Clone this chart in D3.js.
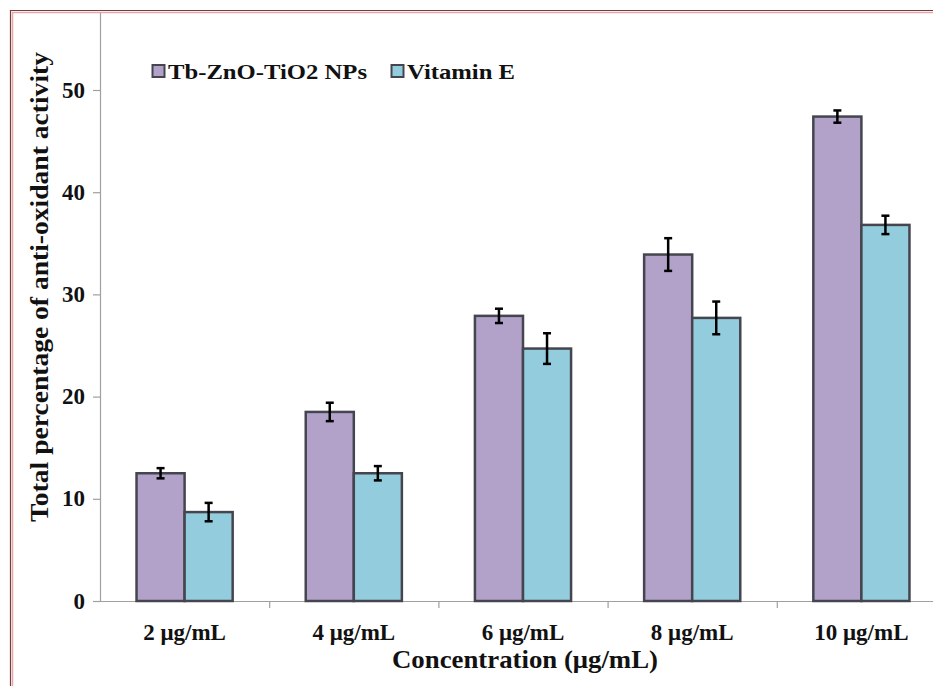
<!DOCTYPE html>
<html><head><meta charset="utf-8">
<script src="https://cdn.jsdelivr.net/npm/d3@7"></script>
<style>body{margin:0;background:#fff}svg{display:block}</style>
</head><body>
<script>
const categories = ["2 μg/mL","4 μg/mL","6 μg/mL","8 μg/mL","10 μg/mL"];
const seriesNames = ["Tb-ZnO-TiO2 NPs","Vitamin E"];
const tbValues = [12.5, 18.5, 27.9, 33.9, 47.4];
const tbErrors = [0.5, 0.9, 0.7, 1.6, 0.6];
const vitValues = [8.7, 12.5, 24.7, 27.7, 36.8];
const vitErrors = [0.9, 0.7, 1.5, 1.6, 0.9];
const yTicks = [0,10,20,30,40,50];
const colors = ["#b2a2c9","#93cddd"];

const W=933,H=686;
const svg=d3.select("body").append("svg").attr("width",W).attr("height",H);
svg.append("rect").attr("width",W).attr("height",H).attr("fill","#fff");
// frame
svg.append("path").attr("d","M10.5,686 V10.5 H933").attr("fill","none").attr("stroke","#7a3b3b").attr("stroke-width",1.2);
svg.append("path").attr("d","M12.5,686 V12.5 H933").attr("fill","none").attr("stroke","#e2a9ab").attr("stroke-width",1.5);

const x0=100, x1=946, y0=601, yTop=13;
const x=d3.scaleBand().domain(categories).range([x0,x1]).paddingInner(0).paddingOuter(0);
const y=d3.scaleLinear().domain([0,50]).range([y0,90]);
const sub=d3.scaleBand().domain([0,1]).range([0,x.bandwidth()]).paddingInner(0).paddingOuter(0.76);

const font="'Liberation Serif','Times New Roman',serif";

// axes lines
svg.append("line").attr("x1",x0+0.5).attr("x2",x0+0.5).attr("y1",yTop).attr("y2",y0).attr("stroke","#a0a0a0").attr("stroke-width",1.2);
svg.append("line").attr("x1",93).attr("x2",W).attr("y1",y0+0.5).attr("y2",y0+0.5).attr("stroke","#a0a0a0").attr("stroke-width",1.2);
// y ticks
yTicks.forEach(t=>{
  svg.append("line").attr("x1",93).attr("x2",x0).attr("y1",y(t)+0.5).attr("y2",y(t)+0.5).attr("stroke","#a0a0a0").attr("stroke-width",1.2);
  svg.append("text").attr("x",85).attr("y",y(t)+7.5).attr("text-anchor","end")
    .attr("font-family",font).attr("font-weight","bold").attr("font-size",23).attr("fill","#111").text(t);
});
// x ticks at category boundaries
categories.forEach((c,i)=>{
  if(i>0){const bx=x(c);
  svg.append("line").attr("x1",bx+0.5).attr("x2",bx+0.5).attr("y1",y0).attr("y2",y0+7).attr("stroke","#a0a0a0").attr("stroke-width",1.2);}
  svg.append("text").attr("x",x(c)+x.bandwidth()/2).attr("y",640).attr("text-anchor","middle")
    .attr("font-family",font).attr("font-weight","bold").attr("font-size",23).attr("fill","#111").text(c);
});

const series=[{vals:tbValues,errs:tbErrors},{vals:vitValues,errs:vitErrors}];
series.forEach((s,si)=>{
  const g=svg.append("g");
  g.selectAll("rect").data(categories).join("rect")
    .attr("x",(c)=>x(c)+sub(si)).attr("width",sub.bandwidth())
    .attr("y",(c,i)=>y(s.vals[i])).attr("height",(c,i)=>y0-y(s.vals[i]))
    .attr("fill",colors[si]).attr("stroke","#45454f").attr("stroke-width",2.5);
  categories.forEach((c,i)=>{
    const cx=x(c)+sub(si)+sub.bandwidth()/2;
    const top=y(s.vals[i]+s.errs[i]), bot=y(s.vals[i]-s.errs[i]);
    g.append("line").attr("x1",cx).attr("x2",cx).attr("y1",top).attr("y2",bot).attr("stroke","#000").attr("stroke-width",2.5);
    [top,bot].forEach(yy=>g.append("line").attr("x1",cx-4).attr("x2",cx+4).attr("y1",yy).attr("y2",yy).attr("stroke","#000").attr("stroke-width",2.5));
  });
});

// legend
const legX=[152.5,391.5], legTextX=[168,407], legLen=[199,108];
seriesNames.forEach((n,i)=>{
  svg.append("rect").attr("x",legX[i]).attr("y",65).attr("width",12).attr("height",12)
    .attr("fill",colors[i]).attr("stroke","#45454f").attr("stroke-width",2);
  svg.append("text").attr("x",legTextX[i]).attr("y",79).attr("font-family",font).attr("font-weight","bold")
    .attr("font-size",22).attr("fill","#111").attr("textLength",legLen[i]).attr("lengthAdjust","spacingAndGlyphs").text(n);
});

// axis titles
svg.append("text").attr("x",525).attr("y",668).attr("text-anchor","middle").attr("font-family",font)
  .attr("font-weight","bold").attr("font-size",26).attr("fill","#111")
  .attr("textLength",266).attr("lengthAdjust","spacingAndGlyphs").text("Concentration (μg/mL)");
svg.append("text").attr("transform","translate(48,287) rotate(-90)").attr("text-anchor","middle").attr("font-family",font)
  .attr("font-weight","bold").attr("font-size",25).attr("fill","#111")
  .attr("textLength",470).attr("lengthAdjust","spacingAndGlyphs").text("Total percentage of anti-oxidant activity");
</script>
</body></html>
